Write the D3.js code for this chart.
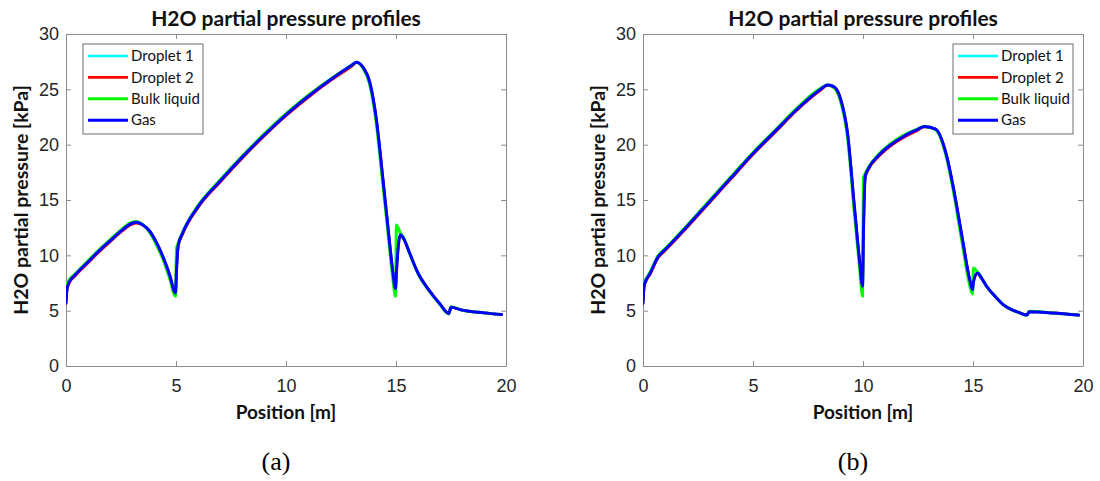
<!DOCTYPE html>
<html>
<head>
<meta charset="utf-8">
<script src="https://cdn.jsdelivr.net/npm/d3@7"></script>
<style>
  html, body { margin: 0; padding: 0; background: #ffffff; }
  svg { display: block; }
</style>
</head>
<body>
<svg id="chart" width="1100" height="481"></svg>
<script>
// ---------------- DATA ----------------
const seriesNames = ["Droplet 1", "Droplet 2", "Bulk liquid", "Gas"];
const xTicks = [0, 5, 10, 15, 20];
const yTicks = [0, 5, 10, 15, 20, 25, 30];
const chartTitle = "H2O partial pressure profiles";
const xLabel = "Position [m]";
const yLabel = "H2O partial pressure [kPa]";
const captions = ["(a)", "(b)"];

// Panel (a)
const posA = [0, 0.05, 0.15, 0.4, 1, 1.5, 2, 2.5, 3, 3.2, 3.5, 3.8, 4.1, 4.4, 4.7, 4.98, 5.02, 5.1, 5.3, 6, 7, 8, 9, 10, 11, 12, 13, 13.2, 13.5, 13.8, 14.1, 14.4, 14.7, 14.85, 14.98, 15.02, 15.2, 15.35, 15.6, 16, 16.5, 17, 17.4, 17.5, 18, 19, 19.8];
const gasA = [5.7, 7.0, 7.6, 8.2, 9.4, 10.4, 11.3, 12.2, 12.9, 13.0, 12.75, 12.2, 11.2, 9.9, 8.3, 6.6, 8.5, 10.9, 12.0, 14.4, 16.7, 18.85, 20.85, 22.7, 24.35, 25.85, 27.2, 27.45, 27.0, 25.7, 22.4, 17.0, 11.3, 8.6, 7.0, 8.5, 11.85, 11.5, 10.3, 8.4, 6.85, 5.6, 4.75, 5.3, 5.05, 4.8, 4.65];
const bulkA = [7.4, 7.5, 7.8, 8.3, 9.5, 10.5, 11.4, 12.3, 13.0, 13.05, 12.75, 12.1, 11.0, 9.7, 8.0, 6.3, 10.6, 11.1, 12.1, 14.5, 16.8, 18.95, 20.95, 22.8, 24.45, 25.9, 27.2, 27.45, 26.9, 25.5, 22.0, 16.5, 10.8, 8.0, 6.3, 12.75, 12.0, 11.6, 10.3, 8.35, 6.8, 5.55, 4.7, 5.35, 5.05, 4.8, 4.65];
const drop1A = [5.7, 7.0, 7.6, 8.2, 9.4, 10.4, 11.3, 12.2, 12.9, 13.0, 12.75, 12.2, 11.2, 9.9, 8.3, 6.6, 8.5, 10.9, 12.0, 14.4, 16.7, 18.85, 20.85, 22.7, 24.35, 25.85, 27.2, 27.45, 27.0, 25.7, 22.4, 17.0, 11.3, 8.6, 7.0, 8.5, 11.85, 11.5, 10.3, 8.4, 6.85, 5.6, 4.75, 5.3, 5.05, 4.8, 4.65];
const drop2A = [5.6, 6.9, 7.5, 8.1, 9.3, 10.3, 11.2, 12.1, 12.8, 12.9, 12.7, 12.2, 11.2, 9.9, 8.3, 6.6, 8.4, 10.8, 11.9, 14.3, 16.6, 18.75, 20.75, 22.6, 24.25, 25.75, 27.1, 27.4, 27.0, 25.7, 22.4, 17.0, 11.3, 8.6, 7.0, 8.4, 11.8, 11.5, 10.3, 8.4, 6.85, 5.6, 4.75, 5.3, 5.05, 4.8, 4.65];

// Panel (b)
const posB = [0, 0.05, 0.15, 0.3, 0.7, 1, 2, 3, 4, 5, 6, 7, 8, 8.4, 8.7, 9.0, 9.3, 9.6, 9.85, 9.98, 10.02, 10.1, 10.25, 10.7, 11.2, 11.8, 12.4, 12.8, 13.3, 13.8, 14.1, 14.5, 14.85, 14.98, 15.02, 15.2, 15.4, 15.6, 16.0, 16.4, 16.8, 17.1, 17.45, 17.55, 18.6, 19.8];
const gasB = [5.7, 7.2, 7.8, 8.3, 9.9, 10.5, 12.6, 14.8, 17.0, 19.2, 21.2, 23.2, 24.9, 25.4, 25.2, 24.0, 21.0, 14.6, 9.4, 7.2, 12.0, 17.1, 17.85, 19.0, 19.9, 20.7, 21.3, 21.65, 21.4, 19.0, 16.2, 11.7, 7.8, 6.9, 7.6, 8.4, 7.9, 7.25, 6.3, 5.5, 5.05, 4.82, 4.6, 4.9, 4.8, 4.6];
const bulkB = [7.3, 7.5, 7.9, 8.4, 10.0, 10.6, 12.7, 14.9, 17.1, 19.3, 21.3, 23.3, 25.0, 25.4, 25.1, 23.8, 20.6, 14.0, 8.8, 6.3, 17.0, 17.4, 17.95, 19.1, 20.0, 20.8, 21.35, 21.65, 21.35, 18.8, 15.9, 11.2, 7.3, 6.5, 8.85, 8.5, 7.95, 7.25, 6.3, 5.5, 5.05, 4.82, 4.6, 4.95, 4.8, 4.6];
const drop1B = [5.7, 7.2, 7.8, 8.3, 9.9, 10.5, 12.6, 14.8, 17.0, 19.2, 21.2, 23.2, 24.9, 25.4, 25.2, 24.0, 21.0, 14.6, 9.4, 7.2, 12.0, 17.1, 17.85, 19.0, 19.9, 20.7, 21.3, 21.65, 21.4, 19.0, 16.2, 11.7, 7.8, 6.9, 7.6, 8.4, 7.9, 7.25, 6.3, 5.5, 5.05, 4.82, 4.6, 4.9, 4.8, 4.6];
const drop2B = [5.6, 7.1, 7.7, 8.2, 9.8, 10.4, 12.5, 14.7, 16.9, 19.1, 21.1, 23.1, 24.8, 25.35, 25.2, 24.0, 21.0, 14.6, 9.4, 7.2, 11.9, 17.0, 17.75, 18.9, 19.8, 20.6, 21.2, 21.6, 21.4, 19.0, 16.2, 11.7, 7.8, 6.9, 7.6, 8.35, 7.9, 7.25, 6.3, 5.5, 5.05, 4.82, 4.6, 4.9, 4.8, 4.6];

const seriesColors = ["#00ffff", "#ff0000", "#00ff00", "#0000ff"];

// ---------------- DRAWING ----------------
const svg = d3.select("#chart");

const panels = [
  { pos: posA, ys: [drop1A, drop2A, bulkA, gasA], left: 66, right: 506, legendSide: "left", caption: captions[0] },
  { pos: posB, ys: [drop1B, drop2B, bulkB, gasB], left: 643, right: 1083, legendSide: "right", caption: captions[1] }
];
const plotTop = 34, plotBottom = 366;
const axisColor = "#8c8c8c";
const textColor = "#262626";

panels.forEach(p => {
  const g = svg.append("g");
  const x = d3.scaleLinear().domain([0, 20]).range([p.left, p.right]);
  const y = d3.scaleLinear().domain([0, 30]).range([plotBottom, plotTop]);
  const cx = (p.left + p.right) / 2;

  const clipId = "clip" + p.left;
  svg.append("clipPath").attr("id", clipId).append("rect")
    .attr("x", p.left).attr("y", plotTop).attr("width", p.right - p.left).attr("height", plotBottom - plotTop);

  const axB = d3.axisBottom(x).tickValues(xTicks).tickSizeInner(-5).tickSizeOuter(0).tickPadding(12);
  const axT = d3.axisTop(x).tickValues(xTicks).tickSizeInner(-5).tickSizeOuter(0).tickFormat("");
  const axL = d3.axisLeft(y).tickValues(yTicks).tickSizeInner(-5).tickSizeOuter(0).tickPadding(12);
  const axR = d3.axisRight(y).tickValues(yTicks).tickSizeInner(-5).tickSizeOuter(0).tickFormat("");

  const gB = g.append("g").attr("transform", `translate(0,${plotBottom})`).call(axB);
  const gT = g.append("g").attr("transform", `translate(0,${plotTop})`).call(axT);
  const gL = g.append("g").attr("transform", `translate(${p.left},0)`).call(axL);
  const gR = g.append("g").attr("transform", `translate(${p.right},0)`).call(axR);
  [gB, gT, gL, gR].forEach(a => {
    a.select(".domain").attr("stroke", axisColor).attr("stroke-width", 1);
    a.selectAll(".tick line").attr("stroke", axisColor).attr("stroke-width", 1);
    a.selectAll(".tick text").attr("fill", textColor)
      .style("font-family", "'Liberation Sans', Arial, sans-serif").style("font-size", "18px");
  });
  gL.selectAll(".tick text").attr("x", -7);
  gB.selectAll(".tick text").attr("dy", "0.71em").attr("y", 13);

  const lineGroup = g.append("g").attr("clip-path", `url(#${clipId})`);
  const widths = [2.6, 2.6, 3.0, 3.0];
  p.ys.forEach((vals, i) => {
    const pts = p.pos.map((d, k) => [d, vals[k]]);
    const line = d3.line().x(d => x(d[0])).y(d => y(d[1])).curve(d3.curveMonotoneX);
    lineGroup.append("path").datum(pts)
      .attr("d", line).attr("fill", "none")
      .attr("stroke", seriesColors[i]).attr("stroke-width", widths[i])
      .attr("stroke-linejoin", "round").attr("stroke-linecap", "round");
  });

  g.append("text").attr("x", cx).attr("y", 26).attr("text-anchor", "middle")
    .style("font-family", "Lato, 'Open Sans', sans-serif").style("font-weight", "bold")
    .style("font-size", "21px").attr("fill", "#111").text(chartTitle);
  g.append("text").attr("x", cx).attr("y", 419).attr("text-anchor", "middle")
    .style("font-family", "Lato, 'Open Sans', sans-serif").style("font-weight", "bold")
    .style("font-size", "19px").attr("fill", "#111").text(xLabel);
  g.append("text").attr("transform", `translate(${p.left - 38},${(plotTop + plotBottom) / 2}) rotate(-90)`)
    .attr("text-anchor", "middle")
    .style("font-family", "Lato, 'Open Sans', sans-serif").style("font-weight", "bold")
    .style("font-size", "19.5px").attr("fill", "#111").text(yLabel);
  g.append("text").attr("x", p.left + 210).attr("y", 470).attr("text-anchor", "middle")
    .style("font-family", "'Liberation Serif', 'DejaVu Serif', serif")
    .style("font-size", "26px").attr("fill", "#000").text(p.caption);

  const lw = 120, lh = 90;
  const lx = p.legendSide === "left" ? p.left + 17 : p.right - 10 - lw;
  const ly = 44;
  const lg = g.append("g");
  lg.append("rect").attr("x", lx).attr("y", ly).attr("width", lw).attr("height", lh)
    .attr("fill", "#fff").attr("stroke", "#6e6e6e").attr("stroke-width", 1);
  seriesNames.forEach((name, i) => {
    const yy = ly + 12 + i * 21.4;
    lg.append("line").attr("x1", lx + 5).attr("x2", lx + 45).attr("y1", yy).attr("y2", yy)
      .attr("stroke", seriesColors[i]).attr("stroke-width", i >= 2 ? 3 : 2.6);
    lg.append("text").attr("x", lx + 48).attr("y", yy).attr("dy", "0.35em")
      .style("font-family", "Lato, 'Open Sans', sans-serif").style("font-size", "15px")
      .attr("fill", "#111").text(name);
  });
});
</script>
</body>
</html>
